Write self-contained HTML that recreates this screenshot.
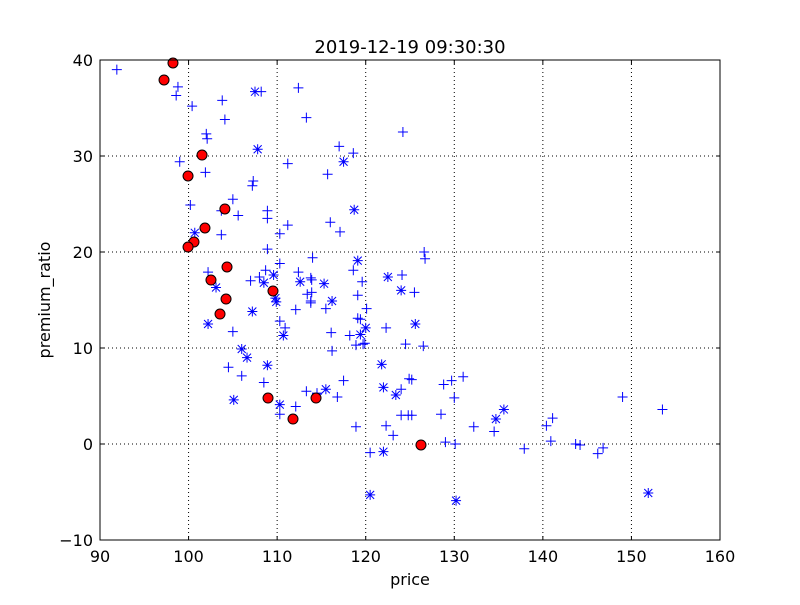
<!DOCTYPE html>
<html><head><meta charset="utf-8"><style>
body{margin:0;background:#fff;}
svg text{font-family:"DejaVu Sans","Liberation Sans",sans-serif;fill:#000;}
</style></head><body>
<svg id="chart" width="800" height="600">
<rect width="800" height="600" fill="#fff"/>
<g id="grid"></g><g id="marks"></g><g id="axes"></g>
<text x="410" y="53" font-size="18" text-anchor="middle">2019-12-19 09:30:30</text>
<text x="410" y="585" font-size="16" text-anchor="middle">price</text>
<text x="50" y="300" font-size="16" text-anchor="middle" transform="rotate(-90 50 300)">premium_ratio</text>
</svg>
<script>
const xTicks=[90,100,110,120,130,140,150,160];
const yTicks=[-10,0,10,20,30,40];
const yTickLabels=["\u221210","0","10","20","30","40"];
const plusX=[91.9,98.8,98.6,100.4,103.8,104.1,102.0,102.1,99.0,101.9,107.3,107.2,100.2,105.0,105.6,108.9,108.9,111.2,110.3,103.7,103.7,108.9,108.2,112.4,113.3,111.2,110.3,114.0,108.7,108.0,112.4,113.8,107.0,102.2,113.9,113.4,113.8,112.1,113.8,110.3,110.9,105.0,104.5,106.0,108.5,113.3,114.5,112.1,110.3,124.2,117.0,118.6,115.7,116.0,117.1,126.6,126.7,118.6,124.1,113.9,119.6,125.5,119.1,115.5,120.1,119.1,119.4,122.3,116.1,118.2,118.9,119.7,119.9,124.5,126.5,116.2,117.5,124.9,125.2,128.8,116.8,114.5,124.0,124.0,124.8,125.2,128.5,118.9,122.3,123.1,129.0,120.5,129.7,131.0,130.0,132.2,134.5,130.1,137.9,140.4,141.1,140.9,143.7,144.2,146.8,146.2,149.0,153.5];
const plusY=[39.0,37.2,36.3,35.2,35.8,33.8,32.3,31.8,29.4,28.3,27.4,26.9,24.9,25.5,23.8,24.3,23.5,22.8,21.9,21.8,24.3,20.3,36.7,37.1,34.0,29.2,18.8,19.4,18.1,17.4,17.9,17.3,17.0,17.9,15.8,15.6,14.9,14.0,14.7,12.8,12.1,11.7,8.0,7.1,6.4,5.5,5.2,3.9,3.1,32.5,31.0,30.3,28.1,23.1,22.1,20.0,19.3,18.1,17.6,17.1,16.9,15.8,15.5,14.1,14.1,13.1,13.0,12.1,11.6,11.3,10.3,10.4,10.5,10.4,10.2,9.7,6.6,6.8,6.7,6.2,4.9,5.3,5.7,3.0,3.0,3.0,3.1,1.8,1.9,0.9,0.2,-0.9,6.6,7.0,4.8,1.8,1.3,0.0,-0.5,1.9,2.7,0.3,0.0,-0.1,-0.4,-1.0,4.9,3.6];
const starX=[107.5,107.8,100.7,109.6,108.5,112.6,103.1,109.8,109.9,107.2,102.2,110.7,106.0,106.6,108.9,105.1,110.3,117.5,118.7,119.1,115.3,116.2,122.5,124.0,125.6,120.0,119.4,121.8,122.0,123.4,115.5,122.0,120.5,135.6,134.7,130.2,151.9];
const starY=[36.7,30.7,22.0,17.6,16.8,16.9,16.3,15.2,14.8,13.8,12.5,11.3,9.9,9.0,8.2,4.6,4.1,29.4,24.4,19.1,16.7,14.9,17.4,16.0,12.5,12.1,11.4,8.3,5.9,5.1,5.7,-0.8,-5.3,3.6,2.6,-5.9,-5.1];
const dotX=[98.24,97.23,101.52,99.94,104.1,101.85,100.61,99.94,104.34,102.53,104.23,103.55,109.53,108.97,114.39,111.79,126.24];
const dotY=[39.69,37.92,30.1,27.92,24.48,22.5,21.04,20.52,18.44,17.08,15.1,13.54,15.94,4.79,4.79,2.6,-0.1];

const L=100,R=720,T=60,B=540;
const sx=v=>L+(v-90)/70*(R-L);
const sy=v=>B-(v+10)/50*(B-T);
const NS="http://www.w3.org/2000/svg";
function mk(tag,attrs,parent){const e=document.createElementNS(NS,tag);for(const k in attrs)e.setAttribute(k,attrs[k]);parent.appendChild(e);return e;}
const grid=document.getElementById('grid'),marks=document.getElementById('marks'),axes=document.getElementById('axes');
xTicks.forEach((t,i)=>{const x=sx(t);
 if(i>0&&i<xTicks.length-1){const g=mk('line',{x1:x,x2:x,y1:T,y2:B,stroke:'#000','stroke-dasharray':'1,3','stroke-width':1},grid);
 
 }
 mk('line',{x1:x,x2:x,y1:B,y2:B-4,stroke:'#000'},axes);
 mk('line',{x1:x,x2:x,y1:T,y2:T+4,stroke:'#000'},axes);
 const tx=mk('text',{x:x,y:B+22,'font-size':16,'text-anchor':'middle'},axes);tx.textContent=t;
 
 
});
yTicks.forEach((t,i)=>{const y=sy(t);
 if(i>0&&i<yTicks.length-1){const g=mk('line',{x1:L,x2:R,y1:y,y2:y,stroke:'#000','stroke-dasharray':'1,3','stroke-width':1},grid);
 
 }
 mk('line',{x1:L,x2:L+4,y1:y,y2:y,stroke:'#000'},axes);
 mk('line',{x1:R,x2:R-4,y1:y,y2:y,stroke:'#000'},axes);
 const tx=mk('text',{x:L-7,y:y+6,'font-size':16,'text-anchor':'end'},axes);tx.textContent=yTickLabels[i];
 
 
});
const fr=mk('rect',{x:L,y:T,width:R-L,height:B-T,fill:'none',stroke:'#000','stroke-width':1},axes);


plusX.forEach((v,i)=>{const x=sx(v),y=sy(plusY[i]);
 const p=mk('path',{d:`M${x-5},${y}H${x+5}M${x},${y-5}V${y+5}`,stroke:'#0000ff','stroke-width':1,fill:'none'},marks);
 
 
});
starX.forEach((v,i)=>{const x=sx(v),y=sy(starY[i]);
 const p=mk('path',{d:`M${x-5},${y}H${x+5}M${x},${y-5}V${y+5}M${x-4},${y-4}L${x+4},${y+4}M${x-4},${y+4}L${x+4},${y-4}`,stroke:'#0000ff','stroke-width':1,fill:'none'},marks);
 
 
});
dotX.forEach((v,i)=>{
 const c=mk('circle',{cx:sx(v),cy:sy(dotY[i]),r:5,fill:'#ff0000',stroke:'#000','stroke-width':1},marks);
 
 
});
</script>
</body></html>
